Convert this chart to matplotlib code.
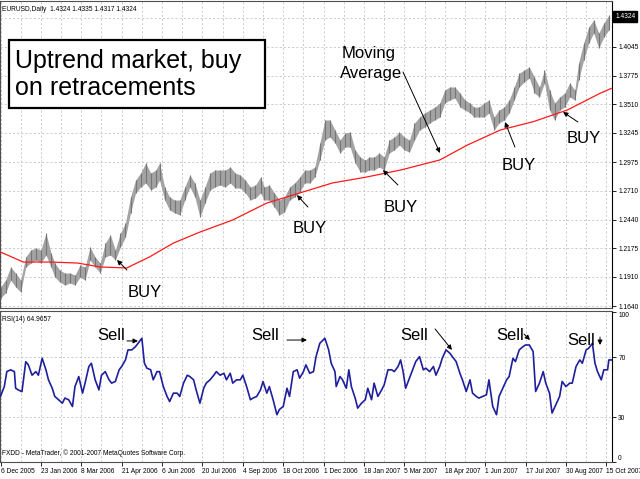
"""
EURUSD daily chart (MetaTrader style): price bars with a moving average,
RSI(14) sub-panel, BUY / Sell annotations.
"""
import matplotlib
matplotlib.use("Agg")
import matplotlib.pyplot as plt
from matplotlib.patches import Rectangle
import numpy as np

# ── Data ──────────────────────────────────────────────────────────────────────
# price sampled about every 4th session: session index, high, low
price_day = [0, 4, 8, 12, 16, 20, 24, 28, 32, 36, 40, 43, 47, 51, 55, 59, 63, 67,
             71, 75, 79, 83, 87, 91, 95, 99, 103, 107, 111, 115, 119, 123, 126,
             130, 134, 138, 142, 146, 150, 154, 158, 162, 166, 170, 174, 178, 182,
             186, 190, 194, 198, 202, 206, 209, 213, 217, 221, 225, 229, 233, 237,
             241, 245, 249, 253, 257, 261, 265, 269, 273, 277, 281, 285, 289, 292,
             296, 300, 304, 308, 312, 316, 320, 324, 328, 332, 336, 340, 344, 348,
             352, 356, 360, 364, 368, 372, 375, 379, 383, 387, 391, 395, 399, 403,
             407, 411, 415, 419, 423, 427, 431, 435, 439, 443, 447, 451, 455, 458,
             462, 466, 470, 474, 478, 482]
price_high = [1.1817, 1.1881, 1.2002, 1.1946, 1.1881, 1.2095, 1.2160, 1.2178, 1.2160,
              1.2317, 1.2132, 1.2039, 1.1974, 1.1946, 1.1946, 1.1928, 1.2020, 1.2002,
              1.2187, 1.2095, 1.2039, 1.2224, 1.2299, 1.2160, 1.2317, 1.2410, 1.2651,
              1.2808, 1.2873, 1.2966, 1.2873, 1.2901, 1.2966, 1.2744, 1.2651, 1.2623,
              1.2623, 1.2744, 1.2855, 1.2781, 1.2623, 1.2744, 1.2873, 1.2901, 1.2901,
              1.2901, 1.2929, 1.2873, 1.2855, 1.2808, 1.2744, 1.2762, 1.2836, 1.2744,
              1.2762, 1.2688, 1.2623, 1.2651, 1.2744, 1.2781, 1.2836, 1.2901, 1.2901,
              1.2929, 1.3151, 1.3365, 1.3365, 1.3272, 1.3179, 1.3244, 1.3253, 1.3087,
              1.3022, 1.2994, 1.3022, 1.3022, 1.3059, 1.3022, 1.3179, 1.3207, 1.3253,
              1.3207, 1.3179, 1.3337, 1.3392, 1.3430, 1.3457, 1.3485, 1.3522, 1.3643,
              1.3671, 1.3671, 1.3615, 1.3550, 1.3522, 1.3485, 1.3485, 1.3522, 1.3550,
              1.3392, 1.3457, 1.3485, 1.3550, 1.3671, 1.3800, 1.3828, 1.3856, 1.3763,
              1.3671, 1.3828, 1.3643, 1.3522, 1.3578, 1.3615, 1.3708, 1.3643, 1.3893,
              1.4078, 1.4227, 1.4292, 1.4171, 1.4264, 1.4335]
price_low = [1.1715, 1.1761, 1.1881, 1.1817, 1.1770, 1.2002, 1.2039, 1.2067, 1.2039,
             1.2113, 1.2002, 1.1909, 1.1863, 1.1835, 1.1854, 1.1835, 1.1909, 1.1881,
             1.2067, 1.2002, 1.1946, 1.2095, 1.2113, 1.2067, 1.2187, 1.2280, 1.2503,
             1.2688, 1.2744, 1.2781, 1.2716, 1.2744, 1.2808, 1.2623, 1.2530, 1.2503,
             1.2484, 1.2623, 1.2744, 1.2651, 1.2465, 1.2595, 1.2716, 1.2744, 1.2762,
             1.2744, 1.2781, 1.2734, 1.2734, 1.2688, 1.2623, 1.2642, 1.2688, 1.2623,
             1.2623, 1.2558, 1.2484, 1.2512, 1.2623, 1.2651, 1.2697, 1.2781, 1.2781,
             1.2836, 1.2994, 1.3179, 1.3207, 1.3151, 1.3059, 1.3114, 1.3114, 1.2966,
             1.2883, 1.2883, 1.2901, 1.2901, 1.2929, 1.2901, 1.3059, 1.3087, 1.3133,
             1.3087, 1.3068, 1.3179, 1.3272, 1.3300, 1.3337, 1.3365, 1.3392, 1.3522,
             1.3550, 1.3569, 1.3485, 1.3457, 1.3430, 1.3392, 1.3392, 1.3392, 1.3430,
             1.3272, 1.3337, 1.3365, 1.3430, 1.3550, 1.3671, 1.3717, 1.3754, 1.3615,
             1.3578, 1.3708, 1.3457, 1.3365, 1.3457, 1.3485, 1.3578, 1.3550, 1.3735,
             1.3921, 1.4078, 1.4171, 1.4032, 1.4134, 1.4199]

# moving average (red line)
ma_day = [0, 18, 39, 61, 79, 100, 118, 137, 158, 184, 211, 237, 263, 290, 317,
          348, 370, 396, 422, 449, 475, 484]
ma_value = [1.2141, 1.2048, 1.2048, 1.2039, 1.2002, 1.1993, 1.2095, 1.2224, 1.2326,
            1.2438, 1.2595, 1.2688, 1.2781, 1.2836, 1.2901, 1.2994, 1.3133, 1.3272,
            1.3349, 1.3457, 1.3612, 1.3658]

# RSI(14)
rsi_day = [0, 3, 5, 8, 11, 12, 14, 17, 20, 22, 25, 28, 30, 33, 36, 38, 41, 43, 46, 49,
           51, 54, 57, 59, 62, 65, 67, 70, 72, 75, 78, 80, 83, 86, 88, 91, 94, 96, 99,
           101, 104, 107, 109, 112, 114, 116, 119, 121, 124, 126, 129, 132, 134, 137,
           140, 142, 145, 148, 150, 153, 155, 158, 161, 163, 166, 169, 171, 174, 177,
           179, 182, 184, 187, 190, 192, 195, 198, 200, 203, 206, 208, 211, 213, 216,
           219, 221, 224, 227, 229, 232, 235, 237, 240, 242, 245, 248, 250, 253,
           257, 260, 262, 265, 266, 269, 271, 274, 276, 278, 281, 283, 286, 289, 291,
           294, 296, 299, 302, 304, 307, 310, 312, 315, 317, 319, 321, 324, 326, 329,
           332, 335, 337, 340, 343, 345, 348, 350, 353, 356, 358, 361, 364, 366, 369,
           372, 374, 377, 379, 382, 385, 387, 390, 393, 395, 398, 401, 403, 406, 408,
           411, 414, 416, 419, 422, 423, 424, 427, 430, 432, 435, 437, 440, 443, 445,
           448, 451, 453, 456, 459, 461, 464, 466, 469, 471, 473, 476, 478, 481, 482,
           484]
rsi_value = [43.8, 50.4, 60.4, 61.6, 60.4, 49.3, 48.2, 47.0, 67.0, 65.0, 58.0, 60.4,
             58.0, 69.3, 61.6, 54.9, 49.3, 43.8, 41.6, 39.3, 42.7, 41.6, 37.1, 50.4,
             57.1, 46.0, 52.7, 63.8, 66.0, 54.9, 48.2, 58.0, 60.4, 54.9, 52.7, 53.8,
             61.6, 63.8, 68.2, 74.9, 74.9, 77.1, 79.3, 82.7, 66.0, 62.7, 61.6, 54.9,
             60.4, 60.4, 50.4, 43.8, 40.4, 46.0, 46.0, 43.8, 52.7, 58.0, 57.1, 54.9,
             48.2, 39.3, 49.3, 52.7, 54.9, 58.0, 60.4, 58.0, 59.3, 54.9, 59.3, 52.7,
             54.9, 54.9, 58.0, 50.4, 41.6, 42.7, 43.8, 48.2, 53.8, 46.0, 50.4, 41.6,
             31.6, 35.1, 37.1, 49.3, 43.8, 60.4, 61.6, 56.0, 60.4, 64.9, 59.3, 60.4,
             70.4, 79.3,
             82.7, 74.9, 66.0, 60.4, 50.4, 57.1, 54.9, 49.3, 61.6, 50.4, 42.7, 36.0,
             39.3, 41.6, 49.3, 41.6, 52.7, 43.8, 48.2, 51.6, 61.6, 61.6, 60.4, 63.8,
             68.2, 60.4, 49.3, 56.0, 60.4, 67.1, 70.4, 61.6, 62.7, 60.4, 63.8, 58.0,
             63.8, 69.3, 74.9, 72.7, 70.4, 67.1, 59.3, 54.9, 47.1, 54.9, 46.0, 43.8,
             42.7, 43.8, 44.9, 54.9, 37.1, 31.6, 43.8, 49.3, 54.9, 57.1, 69.3, 67.1,
             74.9, 77.1, 78.2, 78.2, 73.8, 60.4, 47.1, 52.7, 60.4, 52.7, 46.0, 32.7,
             38.2, 43.8, 53.8, 50.4, 52.7, 52.7, 63.8, 68.2, 66.0, 74.9, 76.0, 79.3,
             66.0, 60.4, 54.9, 61.6, 61.6, 68.2, 68.2]

# axis labels (a date label every 32 sessions, grid every 16)
date_labels = ["6 Dec 2005", "23 Jan 2006", "8 Mar 2006", "21 Apr 2006", "6 Jun 2006",
               "20 Jul 2006", "4 Sep 2006", "18 Oct 2006", "1 Dec 2006", "18 Jan 2007",
               "5 Mar 2007", "18 Apr 2007", "1 Jun 2007", "17 Jul 2007", "30 Aug 2007",
               "15 Oct 2007"]
price_ticks = [1.1640, 1.1910, 1.2175, 1.2440, 1.2710, 1.2975, 1.3245, 1.3510,
               1.3775, 1.4045, 1.4310]
rsi_ticks = [0, 30, 70, 100]
last_price = 1.4324

# ── Style ─────────────────────────────────────────────────────────────────────
BIG = "Liberation Sans"
plt.rcParams["font.family"] = ["Liberation Sans", "DejaVu Sans"]
TINY = 4.8

GRID = dict(color="#c4c4c4", lw=0.6, ls=(0, (2.5, 2.5)))
FRAME = "#505050"

W, H = 640, 479


def px_rect(x0, y0, x1, y1):
    return [x0 / W, 1 - y1 / H, (x1 - x0) / W, (y1 - y0) / H]


fig = plt.figure(figsize=(6.4, 4.79), dpi=100)
fig.patch.set_facecolor("white")
ax = fig.add_axes(px_rect(0, 1, 612, 308))
ax2 = fig.add_axes(px_rect(0, 311, 612, 462))

date_day = np.arange(len(date_labels)) * 32
grid_day = np.arange(0, 485, 16)

for a in (ax, ax2):
    a.set_xlim(-0.4, 484.5)
    a.set_xticks(date_day)
    a.set_xticks(grid_day, minor=True)
    a.grid(axis="x", which="both", **GRID)
    a.set_axisbelow(True)
    for side, sp in a.spines.items():
        sp.set_color(FRAME if side != "right" else "black")
        sp.set_linewidth(0.8)
    a.yaxis.tick_right()
    a.tick_params(axis="y", which="both", labelsize=TINY, length=3, width=0.6, pad=1.5)

# ── Price panel ───────────────────────────────────────────────────────────────
ax.set_ylim(1.1622, 1.4468)
ax.set_yticks(price_ticks)
ax.set_yticklabels([f"{t:.4f}" for t in price_ticks[:-1]] + [""])
ax.grid(axis="y", **GRID)
ax.tick_params(axis="x", which="both", length=0, labelbottom=False)

ax.fill_between(price_day, price_low, price_high, color="#a3a3a3", lw=0, zorder=2)
ax.vlines(price_day, price_low, price_high, colors="#767676", lw=0.8, zorder=2)
ax.plot(ma_day, ma_value, color="#ff1a1a", lw=0.9, zorder=3)

ax.text(0.004, 0.985, "EURUSD,Daily  1.4324 1.4335 1.4317 1.4324",
        transform=ax.transAxes, fontsize=TINY, va="top", ha="left")
ax.text(1.005, last_price, f"{last_price:.4f}", transform=ax.get_yaxis_transform(),
        ha="left", va="center", fontsize=TINY, color="white", zorder=10,
        bbox=dict(facecolor="black", edgecolor="black", pad=1.2), clip_on=False)

# title box
ax.add_patch(Rectangle((6.7, 1.3476), 202.9, 0.0630, facecolor="white",
                       edgecolor="black", lw=1.6, zorder=6))
ax.text(11.5, 1.3847, "Uptrend market, buy", fontsize=18, family=BIG,
        va="baseline", ha="left", zorder=7)
ax.text(11.5, 1.3596, "on retracements", fontsize=18, family=BIG,
        va="baseline", ha="left", zorder=7)

ARROW = dict(arrowstyle="-|>", color="black", lw=0.7, mutation_scale=7,
             shrinkA=0, shrinkB=0)

ax.text(270.6, 1.3939, "Moving", fontsize=12, family=BIG, va="baseline", zorder=7)
ax.text(269.0, 1.3754, "Average", fontsize=12, family=BIG, va="baseline", zorder=7)
ax.annotate("", xy=(348.2, 1.3059), xytext=(318.9, 1.3810), arrowprops=ARROW, zorder=7)

buys = [  # text (day, price), arrow tail, arrow head
    ((101.0, 1.1724), (100.2, 1.1974), (92.3, 1.2067)),
    ((231.7, 1.2317), (243.6, 1.2558), (234.9, 1.2669)),
    ((303.8, 1.2512), (314.9, 1.2762), (303.0, 1.2901)),
    ((397.3, 1.2901), (407.6, 1.3114), (399.7, 1.3346)),
    ((448.8, 1.3151), (457.5, 1.3346), (445.7, 1.3439)),
]
for txt, tail, head in buys:
    ax.text(*txt, "BUY", fontsize=12, family=BIG, va="baseline", zorder=7)
    ax.annotate("", xy=head, xytext=tail, arrowprops=ARROW, zorder=7)

# ── RSI panel ─────────────────────────────────────────────────────────────────
ax2.set_ylim(0.2, 100.9)
ax2.set_yticks(rsi_ticks)
ax2.set_yticklabels([str(t) for t in rsi_ticks])
labs = ax2.get_yticklabels()
labs[0].set_va("bottom")
labs[-1].set_va("top")
for lvl in (30, 70):
    ax2.axhline(lvl, zorder=1, **GRID)

ax2.plot(rsi_day, rsi_value, color="#1f1f9e", lw=1.2, zorder=3)

ax2.set_xticklabels(date_labels)
ax2.tick_params(axis="x", which="major", labelsize=TINY, length=3, width=0.6, pad=1.5)
ax2.tick_params(axis="x", which="minor", length=0)
for lab in ax2.get_xticklabels():
    lab.set_ha("left")

ax2.text(0.004, 0.97, "RSI(14) 64.9657", transform=ax2.transAxes,
         fontsize=TINY, va="top", ha="left")
ax2.text(0.004, 0.035, "FXDD - MetaTrader, \u00a9 2001-2007 MetaQuotes Software Corp.",
         transform=ax2.transAxes, fontsize=TINY, va="bottom", ha="left")

sells = [  # text (day, rsi), arrow tail, arrow head
    ((76.5, 81.5), (100.2, 80.9), (108.9, 80.9)),
    ((198.5, 81.5), (227.0, 81.5), (242.8, 81.5)),
    ((316.5, 81.5), (344.3, 88.9), (357.7, 74.9)),
    ((392.6, 81.5), (414.8, 85.5), (419.5, 81.5)),
    ((448.8, 78.2), (475.0, 83.5), (475.0, 78.2)),
]
for txt, tail, head in sells:
    ax2.text(*txt, "Sell", fontsize=12, family=BIG, va="baseline", zorder=7)
    ax2.annotate("", xy=head, xytext=tail, arrowprops=ARROW, zorder=7)

fig.savefig("out.png", dpi=100)
